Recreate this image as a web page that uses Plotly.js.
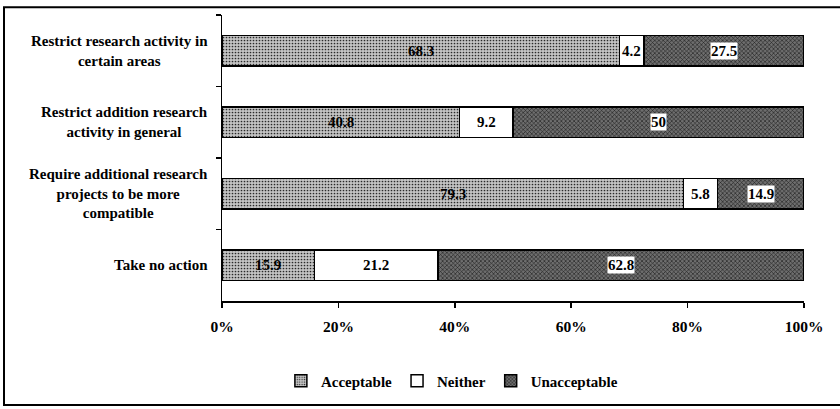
<!DOCTYPE html>
<html><head><meta charset="utf-8">
<script src="https://cdn.plot.ly/plotly-3.0.1.min.js"></script>
<style>html,body{margin:0;padding:0;background:#fff}#chart{width:840px;height:409px}</style>
</head><body><div id="chart"></div>
<script>
// Data
const categories = [
  "Restrict research activity in<br>certain areas",
  "Restrict addition research<br>activity in general",
  "Require additional research<br>projects to be more<br>compatible",
  "Take no action"
];
const acceptable   = [68.3, 40.8, 79.3, 15.9];
const neither      = [4.2, 9.2, 5.8, 21.2];
const unacceptable = [27.5, 50, 14.9, 62.8];
const xTickVals = [0, 20, 40, 60, 80, 100];
const xTickText = ["0%", "20%", "40%", "60%", "80%", "100%"];

const FONT = "Liberation Serif, Times New Roman, serif";
const line = {color: "#000", width: 1.5};

const traces = [
  {type: "bar", orientation: "h", name: "Acceptable", y: categories, x: acceptable,
   width: 0.42,
   marker: {color: "#bdbdbd", line: line,
     pattern: {shape: ".", fgcolor: "#2a2a2a", bgcolor: "#c4c4c4", size: 3, solidity: 0.25}},
   hoverinfo: "skip"},
  {type: "bar", orientation: "h", name: "Neither", y: categories, x: neither,
   width: 0.42, marker: {color: "#ffffff", line: line}, hoverinfo: "skip"},
  {type: "bar", orientation: "h", name: "Unacceptable", y: categories, x: unacceptable,
   width: 0.42,
   marker: {color: "#555", line: line,
     pattern: {shape: "x", fgcolor: "#1a1a1a", bgcolor: "#6e6e6e", size: 3, solidity: 0.35}},
   hoverinfo: "skip"}
];

const annotations = [];
const valFont = {family: FONT, size: 15, color: "#000", weight: "bold"};
categories.forEach((c, i) => {
  annotations.push({x: acceptable[i] / 2, y: c, xref: "x", yref: "y", text: String(acceptable[i]),
    showarrow: false, font: valFont});
  annotations.push({x: acceptable[i] + neither[i] / 2, y: c, xref: "x", yref: "y", text: String(neither[i]),
    showarrow: false, font: valFont});
  annotations.push({x: acceptable[i] + neither[i] + unacceptable[i] / 2, y: c, xref: "x", yref: "y",
    text: String(unacceptable[i]), showarrow: false, font: valFont, bgcolor: "#fff", borderpad: 0});
  annotations.push({x: -12 / 582, y: c, xref: "paper", yref: "y", xanchor: "right", align: "center",
    text: c, showarrow: false,
    font: {family: FONT, size: 15, color: "#000", weight: "bold"}});
});

const layout = {
  width: 840, height: 409,
  margin: {l: 222, r: 36, t: 15, b: 97},
  paper_bgcolor: "#fff", plot_bgcolor: "#fff",
  barmode: "stack",
  showlegend: true,
  legend: {orientation: "h", x: 0.395, xanchor: "center", y: -0.28, yanchor: "middle",
    font: {family: FONT, size: 15, color: "#000", weight: "bold"},
    itemwidth: 30, tracegroupgap: 0, traceorder: "normal"},
  xaxis: {range: [0, 100], tickvals: xTickVals, ticktext: xTickText,
    ticks: "outside", ticklen: 5, tickcolor: "#000", tickwidth: 1.5,
    showline: true, linecolor: "#000", linewidth: 1.5, showgrid: false, zeroline: false,
    tickfont: {family: FONT, size: 15.5, color: "#000", weight: "bold"}, ticklabelstandoff: 6},
  yaxis: {type: "category", autorange: "reversed", showticklabels: false,
    ticks: "outside", tickson: "boundaries", ticklen: 5, tickcolor: "#000", tickwidth: 1.5,
    showline: true, linecolor: "#000", linewidth: 1.5, showgrid: false, zeroline: false},
  annotations: annotations,
  shapes: [{type: "rect", xref: "paper", yref: "paper",
    x0: (4 - 222) / 582, x1: (850 - 222) / 582, y0: (312 - 420) / 297, y1: (312 - 7) / 297,
    line: {color: "#000", width: 2}, fillcolor: "rgba(0,0,0,0)", layer: "above"}]
};

Plotly.newPlot("chart", traces, layout, {staticPlot: true, displayModeBar: false});
</script></body></html>
